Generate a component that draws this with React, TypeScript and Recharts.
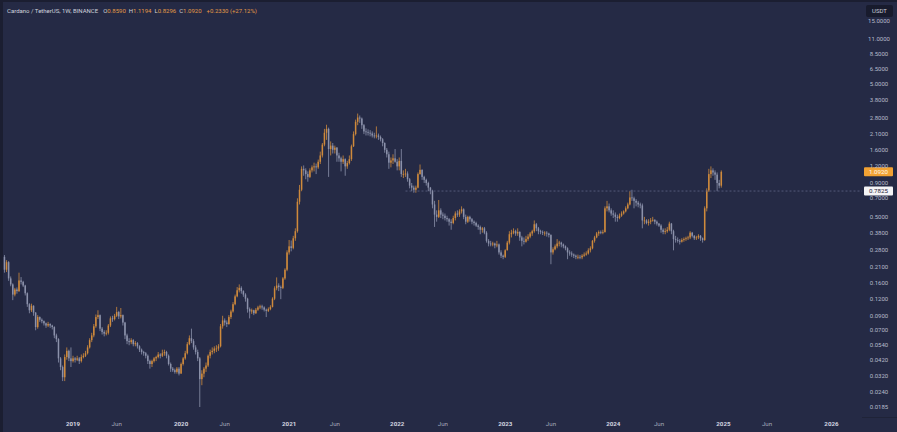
import React from 'react';
import { ComposedChart, Bar, XAxis, YAxis, ReferenceLine } from 'recharts';

// ADA/USDT weekly candles, first bar = week of 21 May 2018, last = week of 30 Dec 2024
const FIRST_OPEN = 0.25;

const closes = [
  0.200, 0.228, 0.172, 0.155, 0.130, 0.142, 0.138, 0.166, 0.162, 0.152,
  0.133, 0.110, 0.099, 0.107, 0.095, 0.074, 0.088, 0.084, 0.082, 0.079,
  0.076, 0.078, 0.076, 0.074, 0.064, 0.060, 0.043, 0.037, 0.031, 0.044,
  0.049, 0.043, 0.041, 0.043, 0.042, 0.043, 0.041, 0.044, 0.045, 0.047,
  0.052, 0.059, 0.064, 0.075, 0.088, 0.091, 0.072, 0.068, 0.066, 0.067,
  0.076, 0.086, 0.085, 0.090, 0.096, 0.089, 0.091, 0.080, 0.064, 0.058,
  0.057, 0.059, 0.055, 0.056, 0.053, 0.050, 0.048, 0.047, 0.045, 0.041,
  0.039, 0.041, 0.043, 0.044, 0.046, 0.045, 0.047, 0.048, 0.045, 0.039,
  0.036, 0.035, 0.034, 0.036, 0.033, 0.039, 0.043, 0.047, 0.055, 0.061,
  0.058, 0.052, 0.048, 0.043, 0.030, 0.033, 0.036, 0.038, 0.045, 0.048,
  0.049, 0.051, 0.051, 0.053, 0.075, 0.083, 0.080, 0.078, 0.088, 0.097,
  0.110, 0.126, 0.140, 0.146, 0.138, 0.130, 0.121, 0.101, 0.097, 0.099,
  0.094, 0.100, 0.104, 0.106, 0.104, 0.100, 0.098, 0.101, 0.105, 0.121,
  0.145, 0.152, 0.148, 0.146, 0.172, 0.200, 0.270, 0.300, 0.292, 0.345,
  0.390, 0.650, 0.800, 1.150, 1.120, 1.050, 1.000, 1.120, 1.180, 1.200,
  1.180, 1.300, 1.450, 1.750, 2.150, 2.300, 1.620, 1.720, 1.600, 1.660,
  1.450, 1.380, 1.300, 1.360, 1.200, 1.270, 1.360, 1.700, 2.100, 2.600,
  2.800, 2.750, 2.450, 2.200, 2.180, 2.150, 2.120, 2.050, 2.020, 2.050,
  2.000, 1.920, 1.800, 1.600, 1.480, 1.280, 1.330, 1.380, 1.300, 1.200,
  1.320, 1.050, 1.050, 1.060, 0.960, 0.860, 0.830, 0.800, 0.830, 1.050,
  1.130, 1.000, 0.950, 0.900, 0.830, 0.780, 0.620, 0.520, 0.500, 0.560,
  0.520, 0.510, 0.490, 0.480, 0.460, 0.450, 0.490, 0.530, 0.520, 0.550,
  0.570, 0.500, 0.460, 0.500, 0.480, 0.460, 0.450, 0.430, 0.420, 0.400,
  0.410, 0.380, 0.330, 0.315, 0.310, 0.315, 0.305, 0.310, 0.270, 0.255,
  0.250, 0.280, 0.320, 0.370, 0.380, 0.390, 0.375, 0.385, 0.350, 0.330,
  0.325, 0.340, 0.355, 0.375, 0.390, 0.440, 0.410, 0.390, 0.385, 0.380,
  0.380, 0.375, 0.365, 0.270, 0.285, 0.300, 0.315, 0.320, 0.310, 0.300,
  0.290, 0.270, 0.265, 0.260, 0.255, 0.250, 0.250, 0.248, 0.255, 0.260,
  0.265, 0.280, 0.290, 0.330, 0.350, 0.375, 0.385, 0.380, 0.385, 0.580,
  0.600, 0.560, 0.530, 0.520, 0.500, 0.490, 0.510, 0.530, 0.550, 0.580,
  0.620, 0.700, 0.690, 0.660, 0.640, 0.620, 0.610, 0.470, 0.470, 0.450,
  0.460, 0.470, 0.475, 0.460, 0.445, 0.430, 0.400, 0.385, 0.390, 0.400,
  0.445, 0.390, 0.340, 0.335, 0.330, 0.325, 0.335, 0.340, 0.345, 0.350,
  0.380, 0.360, 0.345, 0.350, 0.360, 0.345, 0.335, 0.580, 0.790, 1.050,
  1.120, 1.080, 1.040, 0.900, 0.859, 1.092,
];

const highs = [
  0.258, 0.236, 0.232, 0.178, 0.158, 0.146, 0.147, 0.190, 0.176, 0.165,
  0.154, 0.135, 0.112, 0.111, 0.108, 0.096, 0.091, 0.089, 0.086, 0.083,
  0.080, 0.081, 0.079, 0.077, 0.075, 0.066, 0.061, 0.044, 0.038, 0.046,
  0.052, 0.050, 0.052, 0.045, 0.044, 0.045, 0.044, 0.046, 0.047, 0.049,
  0.054, 0.061, 0.067, 0.078, 0.092, 0.099, 0.092, 0.074, 0.070, 0.070,
  0.078, 0.089, 0.090, 0.093, 0.105, 0.098, 0.103, 0.092, 0.081, 0.066,
  0.061, 0.061, 0.060, 0.058, 0.057, 0.054, 0.051, 0.049, 0.048, 0.046,
  0.042, 0.042, 0.044, 0.045, 0.048, 0.047, 0.050, 0.050, 0.049, 0.046,
  0.040, 0.037, 0.036, 0.037, 0.037, 0.040, 0.044, 0.049, 0.057, 0.064,
  0.072, 0.060, 0.054, 0.050, 0.044, 0.035, 0.037, 0.040, 0.046, 0.050,
  0.052, 0.053, 0.054, 0.055, 0.078, 0.090, 0.086, 0.083, 0.091, 0.100,
  0.114, 0.130, 0.148, 0.155, 0.150, 0.140, 0.133, 0.123, 0.104, 0.102,
  0.100, 0.103, 0.107, 0.109, 0.109, 0.106, 0.102, 0.104, 0.108, 0.124,
  0.150, 0.175, 0.158, 0.152, 0.176, 0.205, 0.280, 0.335, 0.332, 0.360,
  0.410, 0.690, 0.870, 1.200, 1.220, 1.160, 1.100, 1.160, 1.220, 1.280,
  1.260, 1.350, 1.550, 1.800, 2.300, 2.470, 2.350, 1.850, 1.800, 1.720,
  1.680, 1.520, 1.420, 1.450, 1.380, 1.320, 1.450, 1.750, 2.200, 2.700,
  3.000, 2.900, 2.800, 2.500, 2.320, 2.280, 2.250, 2.200, 2.150, 2.400,
  2.120, 2.050, 1.960, 1.820, 1.650, 1.550, 1.400, 1.480, 1.620, 1.360,
  1.400, 1.620, 1.120, 1.150, 1.100, 0.980, 0.900, 0.860, 0.860, 1.080,
  1.240, 1.140, 1.020, 0.970, 0.920, 0.840, 0.800, 0.660, 0.560, 0.670,
  0.580, 0.540, 0.530, 0.510, 0.490, 0.480, 0.510, 0.550, 0.560, 0.570,
  0.600, 0.580, 0.520, 0.510, 0.510, 0.490, 0.470, 0.460, 0.440, 0.430,
  0.420, 0.420, 0.390, 0.340, 0.330, 0.325, 0.320, 0.330, 0.315, 0.280,
  0.260, 0.285, 0.330, 0.390, 0.400, 0.410, 0.400, 0.410, 0.390, 0.360,
  0.350, 0.360, 0.370, 0.385, 0.400, 0.470, 0.450, 0.420, 0.400, 0.395,
  0.390, 0.390, 0.380, 0.370, 0.295, 0.310, 0.340, 0.330, 0.325, 0.315,
  0.305, 0.295, 0.280, 0.275, 0.265, 0.260, 0.260, 0.258, 0.262, 0.270,
  0.275, 0.290, 0.300, 0.335, 0.360, 0.385, 0.395, 0.395, 0.400, 0.600,
  0.660, 0.630, 0.580, 0.560, 0.540, 0.520, 0.530, 0.550, 0.560, 0.600,
  0.640, 0.780, 0.800, 0.710, 0.680, 0.660, 0.640, 0.630, 0.500, 0.480,
  0.480, 0.490, 0.500, 0.480, 0.470, 0.450, 0.440, 0.410, 0.410, 0.420,
  0.460, 0.450, 0.400, 0.360, 0.350, 0.340, 0.345, 0.350, 0.355, 0.360,
  0.390, 0.385, 0.365, 0.360, 0.370, 0.365, 0.350, 0.600, 0.820, 1.150,
  1.200, 1.160, 1.120, 1.080, 0.950, 1.1194,
];

const lows = [
  0.190, 0.192, 0.165, 0.150, 0.118, 0.126, 0.132, 0.136, 0.155, 0.148,
  0.128, 0.105, 0.094, 0.096, 0.090, 0.070, 0.072, 0.081, 0.079, 0.076,
  0.073, 0.074, 0.073, 0.071, 0.061, 0.057, 0.040, 0.035, 0.029, 0.029,
  0.042, 0.041, 0.037, 0.040, 0.040, 0.041, 0.039, 0.040, 0.043, 0.044,
  0.046, 0.051, 0.057, 0.062, 0.073, 0.085, 0.069, 0.065, 0.063, 0.064,
  0.065, 0.074, 0.081, 0.083, 0.088, 0.085, 0.086, 0.076, 0.060, 0.055,
  0.054, 0.055, 0.053, 0.053, 0.051, 0.048, 0.046, 0.045, 0.043, 0.039,
  0.036, 0.037, 0.040, 0.041, 0.043, 0.043, 0.044, 0.045, 0.043, 0.038,
  0.034, 0.034, 0.033, 0.033, 0.032, 0.033, 0.038, 0.042, 0.046, 0.054,
  0.056, 0.050, 0.046, 0.041, 0.0185, 0.027, 0.031, 0.034, 0.037, 0.043,
  0.046, 0.047, 0.048, 0.049, 0.052, 0.072, 0.076, 0.074, 0.077, 0.085,
  0.095, 0.108, 0.124, 0.135, 0.132, 0.125, 0.115, 0.095, 0.086, 0.093,
  0.091, 0.093, 0.098, 0.101, 0.100, 0.097, 0.088, 0.096, 0.099, 0.104,
  0.118, 0.140, 0.138, 0.120, 0.143, 0.168, 0.195, 0.260, 0.275, 0.285,
  0.330, 0.380, 0.620, 0.780, 1.020, 0.960, 0.920, 0.980, 1.080, 1.100,
  1.050, 1.150, 1.250, 1.400, 1.700, 1.900, 1.000, 1.450, 1.500, 1.500,
  1.300, 1.300, 1.100, 1.250, 1.020, 1.150, 1.240, 1.320, 1.680, 2.050,
  2.450, 2.550, 2.300, 2.100, 2.050, 2.050, 2.020, 1.980, 1.950, 1.950,
  1.900, 1.850, 1.700, 1.520, 1.400, 1.150, 1.180, 1.250, 1.280, 1.120,
  1.120, 1.000, 0.980, 1.000, 0.920, 0.820, 0.780, 0.760, 0.760, 0.820,
  1.040, 0.950, 0.900, 0.860, 0.780, 0.740, 0.580, 0.420, 0.460, 0.490,
  0.490, 0.480, 0.470, 0.460, 0.430, 0.400, 0.440, 0.470, 0.500, 0.500,
  0.530, 0.480, 0.440, 0.450, 0.460, 0.440, 0.430, 0.420, 0.400, 0.370,
  0.380, 0.370, 0.320, 0.300, 0.300, 0.300, 0.290, 0.295, 0.260, 0.245,
  0.240, 0.245, 0.280, 0.310, 0.350, 0.370, 0.360, 0.360, 0.330, 0.300,
  0.310, 0.320, 0.330, 0.345, 0.360, 0.380, 0.390, 0.370, 0.370, 0.365,
  0.360, 0.355, 0.350, 0.220, 0.260, 0.280, 0.290, 0.300, 0.295, 0.290,
  0.280, 0.240, 0.255, 0.250, 0.245, 0.240, 0.240, 0.240, 0.240, 0.250,
  0.255, 0.260, 0.270, 0.285, 0.320, 0.345, 0.360, 0.370, 0.370, 0.380,
  0.550, 0.540, 0.510, 0.490, 0.460, 0.460, 0.480, 0.500, 0.520, 0.540,
  0.570, 0.610, 0.660, 0.580, 0.600, 0.590, 0.580, 0.410, 0.440, 0.440,
  0.430, 0.440, 0.460, 0.440, 0.430, 0.420, 0.380, 0.370, 0.370, 0.380,
  0.390, 0.370, 0.280, 0.320, 0.320, 0.310, 0.320, 0.325, 0.330, 0.335,
  0.340, 0.350, 0.335, 0.335, 0.340, 0.330, 0.320, 0.330, 0.550, 0.770,
  0.980, 1.020, 0.950, 0.780, 0.820, 0.8296,
];

// bar index of the first week of each labelled month
const xTickIdx = [33, 54, 85, 106, 137, 159, 189, 211, 241, 263, 293, 315, 346, 367, 398];
const xTickLabels = ['2019', 'Jun', '2020', 'Jun', '2021', 'Jun', '2022', 'Jun', '2023', 'Jun', '2024', 'Jun', '2025', 'Jun', '2026'];
const yTicks = [15, 11, 8.5, 6.5, 5, 3.8, 2.8, 2.1, 1.6, 1.2, 0.9, 0.7, 0.5, 0.38, 0.28, 0.21, 0.16, 0.12, 0.09, 0.07, 0.054, 0.042, 0.032, 0.024, 0.0185];

const LAST_PRICE = 1.092;
const RAY_PRICE = 0.7825;
const RAY_START = 193;

const W = 897;
const H = 432;
const AXIS_W = 35;
const BG = '#252a45';
const UP = '#cf8a3c';
const DOWN = '#8c92ab';
const FONT = 'Roboto, "Noto Sans", sans-serif';

const data = closes.map((c, i) => {
  const open = i === 0 ? FIRST_OPEN : closes[i - 1];
  return { i, open, close: c, high: highs[i], low: lows[i], range: [lows[i], highs[i]] };
});

const Candle = (props: any) => {
  const { x, y, width, height, payload } = props;
  if (x == null || y == null || !payload) return null;
  const { open, close, high, low } = payload;
  const cx = x + width / 2;
  const lh = Math.log(high);
  const span = lh - Math.log(low) || 1;
  // the bar spans low..high on the log axis, open/close sit inside it on the same scale
  const at = (v: number) => y + ((lh - Math.log(v)) / span) * height;
  const color = close >= open ? UP : DOWN;
  const top = at(Math.max(open, close));
  const bot = at(Math.min(open, close));
  return (
    <g>
      <line x1={cx} x2={cx} y1={y} y2={y + height} stroke={color} strokeWidth={0.8} />
      <rect x={cx - 0.75} y={top} width={1.5} height={Math.max(bot - top, 0.8)} fill={color} />
    </g>
  );
};

const YTick = ({ y, payload }: any) => (
  <text x={W - AXIS_W + 17} y={y} dy={2.1} textAnchor="middle" fontSize={6} fill="#b6bacb" fontFamily={FONT}>
    {Number(payload.value).toFixed(4)}
  </text>
);

const XTick = ({ x, payload }: any) => {
  const label = xTickLabels[xTickIdx.indexOf(payload.value)] ?? '';
  const isYear = label !== 'Jun';
  return (
    <text x={x} y={H - 6} textAnchor="middle" fontSize={6.2} fontWeight={isYear ? 700 : 400}
      fill={isYear ? '#d4d6e0' : '#a2a6b8'} fontFamily={FONT}>
      {label}
    </text>
  );
};

const PriceTag = ({ viewBox, text, bg, fg }: any) => {
  if (!viewBox) return null;
  const x = viewBox.x + viewBox.width + 2;
  const y = viewBox.y;
  return (
    <g>
      <rect x={x} y={y - 4.5} width={29} height={9} rx={1} fill={bg} />
      <text x={x + 14.5} y={y + 2.2} textAnchor="middle" fontSize={6.2} fill={fg} fontFamily={FONT}>{text}</text>
    </g>
  );
};

export default function App() {
  return (
    <div style={{ position: 'fixed', left: 0, top: 0, width: W, height: H, background: BG, overflow: 'hidden', fontFamily: FONT }}>
      <ComposedChart width={W} height={H} data={data} margin={{ top: 0, right: 0, bottom: 0, left: 0 }}>
        <XAxis
          type="number"
          dataKey="i"
          domain={[-2.166, 412.7]}
          allowDataOverflow
          ticks={xTickIdx}
          interval={0}
          tick={<XTick />}
          axisLine={false}
          tickLine={false}
          height={15}
        />
        <YAxis
          orientation="right"
          scale="log"
          domain={[0.01556, 21.48]}
          allowDataOverflow
          ticks={yTicks}
          interval={0}
          tick={<YTick />}
          axisLine={false}
          tickLine={false}
          width={AXIS_W}
        />
        <ReferenceLine
          segment={[{ x: RAY_START, y: RAY_PRICE }, { x: 412.7, y: RAY_PRICE }]}
          stroke="#5f6686"
          strokeDasharray="2 2"
          strokeWidth={0.8}
          ifOverflow="visible"
        />
        <Bar dataKey="range" barSize={2} shape={<Candle />} isAnimationActive={false} />
        <ReferenceLine y={LAST_PRICE} stroke="none" ifOverflow="visible"
          label={<PriceTag text="1.0920" bg="#f2a233" fg="#fff8e8" />} />
        <ReferenceLine y={RAY_PRICE} stroke="none" ifOverflow="visible"
          label={<PriceTag text="0.7825" bg="#f4f4f6" fg="#1e2236" />} />
      </ComposedChart>

      <div style={{ position: 'absolute', left: 0, top: 0, width: 3, height: H, background: '#1b1e31' }} />
      <div style={{ position: 'absolute', left: 0, top: 0, width: W, height: 2, background: '#1b1e31' }} />
      <div style={{ position: 'absolute', left: W - AXIS_W, top: 417, width: AXIS_W, height: 1, background: '#1f2338' }} />

      <div style={{ position: 'absolute', left: 7, top: 5.5, fontSize: 6, lineHeight: '10px', whiteSpace: 'nowrap', color: '#cfd2dc' }}>
        <span>Cardano / TetherUS, 1W, BINANCE</span>
        <span style={{ marginLeft: 5 }}>O</span><span style={{ color: '#e39a45' }}>0.8590</span>
        <span style={{ marginLeft: 3 }}>H</span><span style={{ color: '#e39a45' }}>1.1194</span>
        <span style={{ marginLeft: 3 }}>L</span><span style={{ color: '#e39a45' }}>0.8296</span>
        <span style={{ marginLeft: 3 }}>C</span><span style={{ color: '#e39a45' }}>1.0920</span>
        <span style={{ marginLeft: 5, color: '#e39a45' }}>+0.2330 (+27.12%)</span>
      </div>

      <div style={{
        position: 'absolute', left: W - 31, top: 5, width: 27, height: 12, borderRadius: 2,
        background: '#181b2d', color: '#c9ccd8', fontSize: 6, lineHeight: '12px', textAlign: 'center',
      }}>
        USDT
      </div>
    </div>
  );
}
